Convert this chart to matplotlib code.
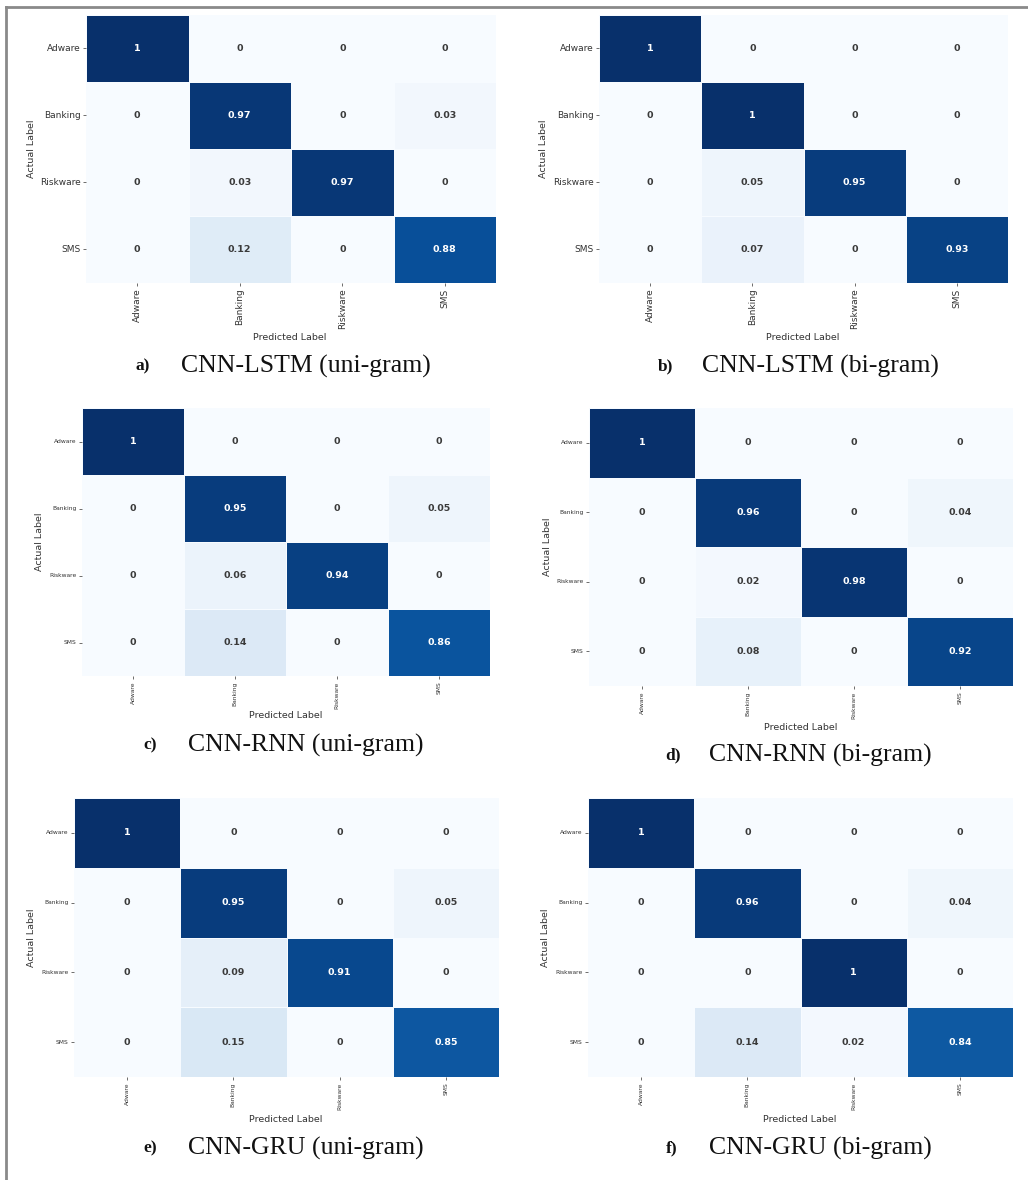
import numpy as np
import matplotlib
matplotlib.use("Agg")
import matplotlib.pyplot as plt
import seaborn as sns
from matplotlib.lines import Line2D

labels = ["Adware", "Banking", "Riskware", "SMS"]

cm_a = [[1, 0, 0, 0], [0, 0.97, 0, 0.03], [0, 0.03, 0.97, 0], [0, 0.12, 0, 0.88]]
cm_b = [[1, 0, 0, 0], [0, 1, 0, 0], [0, 0.05, 0.95, 0], [0, 0.07, 0, 0.93]]
cm_c = [[1, 0, 0, 0], [0, 0.95, 0, 0.05], [0, 0.06, 0.94, 0], [0, 0.14, 0, 0.86]]
cm_d = [[1, 0, 0, 0], [0, 0.96, 0, 0.04], [0, 0.02, 0.98, 0], [0, 0.08, 0, 0.92]]
cm_e = [[1, 0, 0, 0], [0, 0.95, 0, 0.05], [0, 0.09, 0.91, 0], [0, 0.15, 0, 0.85]]
cm_f = [[1, 0, 0, 0], [0, 0.96, 0, 0.04], [0, 0, 1, 0], [0, 0.14, 0.02, 0.84]]

letters = ["a)", "b)", "c)", "d)", "e)", "f)"]
titles = ["CNN-LSTM (uni-gram)", "CNN-LSTM (bi-gram)",
          "CNN-RNN (uni-gram)", "CNN-RNN (bi-gram)",
          "CNN-GRU (uni-gram)", "CNN-GRU (bi-gram)"]

W, H = 1028, 1180
fig = plt.figure(figsize=(W / 100, H / 100), dpi=100)
fig.patch.set_facecolor("white")

# layout in pixels: (left, top, right, bottom) of heatmap
boxes = [(86, 15, 496, 283), (599, 15, 1008, 283),
         (82, 408, 490, 676), (589, 408, 1013, 686),
         (74, 798, 499, 1077), (588, 798, 1013, 1077)]
xlab = [(290, 337), (803, 337), (286, 715), (801, 727), (286, 1119), (800, 1119)]
ylab_x = [31, 544, 40, 548, 32, 545]
cap_letter_x = [143, 665, 150, 673, 150, 672]
cap_center_x = [306, 820, 306, 820, 306, 820]
cap_y = [366, 366, 745, 755, 1148, 1148]
tick_fs = [6.5, 6.5, 4.3, 4.3, 4.3, 4.3]

mats = [cm_a, cm_b, cm_c, cm_d, cm_e, cm_f]

for i, cm in enumerate(mats):
    l, t, r, b = boxes[i]
    ax = fig.add_axes([l / W, 1 - b / H, (r - l) / W, (b - t) / H])
    sns.heatmap(np.array(cm), ax=ax, cmap="Blues", vmin=0, vmax=1, cbar=False,
                annot=True, fmt="g", linewidths=0.6, linecolor="#f7fbff",
                annot_kws={"size": 6.8, "weight": "bold"},
                xticklabels=labels, yticklabels=labels)
    for txt in ax.texts:
        if txt.get_color() not in ("w", "white"):
            txt.set_color("#3a3a3a")
    ax.tick_params(axis="both", labelsize=tick_fs[i], length=2.5, width=0.6,
                   color="#555555", labelcolor="#333333", pad=1.5)
    ax.set_xticklabels(labels, rotation=90, fontsize=tick_fs[i], color="#333333")
    ax.set_yticklabels(labels, rotation=0, fontsize=tick_fs[i], color="#333333")
    ax.set_xlabel("")
    ax.set_ylabel("")
    cy = (t + b) / 2
    fig.text(xlab[i][0] / W, 1 - xlab[i][1] / H, "Predicted Label", ha="center",
             va="center", fontsize=6.8, color="#333333")
    fig.text(ylab_x[i] / W, 1 - cy / H, "Actual Label", ha="center", va="center",
             rotation=90, fontsize=6.8, color="#333333")
    fig.text(cap_letter_x[i] / W, 1 - cap_y[i] / H, letters[i], ha="center",
             va="center", fontsize=12.5, fontweight="bold",
             family="Liberation Serif", color="#111111")
    fig.text(cap_center_x[i] / W, 1 - cap_y[i] / H, titles[i], ha="center",
             va="center", fontsize=18.5, family="Liberation Serif", color="#111111")

# outer frame (top and left edges)
fig.add_artist(Line2D([6 / W, 1], [1 - 6.5 / H, 1 - 6.5 / H], transform=fig.transFigure,
                      color="#8a8a8a", lw=2))
fig.add_artist(Line2D([6 / W, 6 / W], [0, 1 - 6.5 / H], transform=fig.transFigure,
                      color="#8a8a8a", lw=2))

fig.savefig("out.png", dpi=100, facecolor="white")
